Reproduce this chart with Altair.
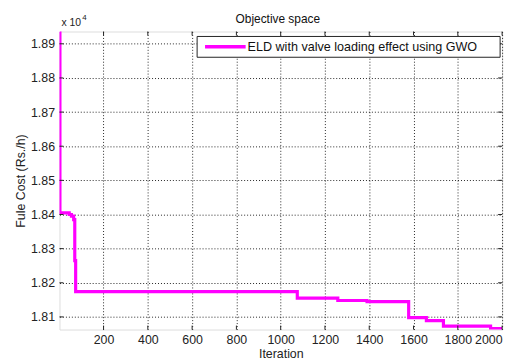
import altair as alt
import pandas as pd

iterations = [1, 3, 45, 55, 65, 70, 74, 1075, 1258, 1390, 1578, 1658, 1735, 1948, 2000]
costs = [18935, 18405, 18400, 18395, 18385, 18265, 18174, 18155, 18148, 18145, 18098, 18089, 18073, 18066, 18066]
series_name = "ELD with valve loading effect using GWO"
chart_title = "Objective space"

x_ticks = [200, 400, 600, 800, 1000, 1200, 1400, 1600, 1800, 2000]
y_ticks = [18100, 18200, 18300, 18400, 18500, 18600, 18700, 18800, 18900]

W, H = 447, 301
FONT = "Liberation Sans"
MAGENTA = "#ff00ff"
INK = "#222"

df = pd.DataFrame({"Iteration": iterations, "Cost": costs, "series": series_name})
xt = pd.DataFrame({"Iteration": x_ticks})
yt = pd.DataFrame({"Cost": y_ticks})
one = pd.DataFrame({"series": [series_name], "title": [chart_title]})

xscale = alt.Scale(domain=[1, 2000], nice=False, zero=False)
yscale = alt.Scale(domain=[18063, 18936], nice=False, zero=False)

common = dict(tickSize=0, grid=True, domain=False, labelOverlap=False,
              labelFont=FONT, labelFontSize=12.5, labelColor=INK,
              titleFont=FONT, titleFontSize=12.5, titleFontWeight="normal", titleColor=INK,
              gridColor="#000", gridDash=[1, 2], gridOpacity=0.85, gridWidth=1)
x_axis = alt.Axis(values=x_ticks, format="d", labelPadding=4, titlePadding=2, **common)
y_axis = alt.Axis(values=y_ticks, labelExpr="format(datum.value / 10000, '.2f')",
                  labelPadding=5, titlePadding=3, **common)

X = alt.X("Iteration:Q", scale=xscale, title="Iteration", axis=x_axis)
Y = alt.Y("Cost:Q", scale=yscale, title="Fule Cost (Rs./h)", axis=y_axis)

line = alt.Chart(df).mark_line(strokeWidth=3.2, interpolate="step-after", clip=True,
                               color=MAGENTA).encode(x=X, y=Y)

tick_b = alt.Chart(xt).mark_rule(color=INK, strokeWidth=1).encode(
    x=X, y=alt.value(H), y2=alt.value(H - 4))
tick_t = alt.Chart(xt).mark_rule(color=INK, strokeWidth=1).encode(
    x=X, y=alt.value(0), y2=alt.value(4))
tick_l = alt.Chart(yt).mark_rule(color=INK, strokeWidth=1).encode(
    y=Y, x=alt.value(0), x2=alt.value(4))
tick_r = alt.Chart(yt).mark_rule(color=INK, strokeWidth=1).encode(
    y=Y, x=alt.value(W), x2=alt.value(W - 4))

# legend box
leg_box = alt.Chart(one).mark_rect(fill="white", stroke=INK, strokeWidth=1).encode(
    x=alt.value(139), x2=alt.value(445), y=alt.value(5), y2=alt.value(26))
leg_sym = alt.Chart(one).mark_rule(color=MAGENTA, strokeWidth=3.5).encode(
    x=alt.value(147), x2=alt.value(188), y=alt.value(15.5))
leg_txt = alt.Chart(one).mark_text(align="left", baseline="middle", fontSize=12.7,
                                   font=FONT, color="#111").encode(
    text="series:N", x=alt.value(190), y=alt.value(16))

title_txt = alt.Chart(one).mark_text(align="center", baseline="alphabetic", fontSize=12,
                                     font=FONT, color="#111").encode(
    text="title:N", x=alt.value(W / 2 - 3), y=alt.value(-9))

mult = alt.Chart(pd.DataFrame({"t": ["x 10"]})).mark_text(
    align="left", baseline="alphabetic", fontSize=10.5, font=FONT, color=INK).encode(
    text="t:N", x=alt.value(2), y=alt.value(-6))
sup = alt.Chart(pd.DataFrame({"t": ["4"]})).mark_text(
    align="left", baseline="alphabetic", fontSize=8, font=FONT, color=INK).encode(
    text="t:N", x=alt.value(23), y=alt.value(-12))

chart = alt.layer(line, tick_b, tick_t, tick_l, tick_r, leg_box, leg_sym, leg_txt,
                  title_txt, mult, sup).properties(
    width=W, height=H,
    autosize=alt.AutoSizeParams(type="none"),
    padding={"left": 52, "top": 22, "right": 10, "bottom": 28},
).configure_view(stroke=INK, strokeWidth=1).configure(background="white")

chart.save("out.html", embed_options={"renderer": "svg", "actions": False})
